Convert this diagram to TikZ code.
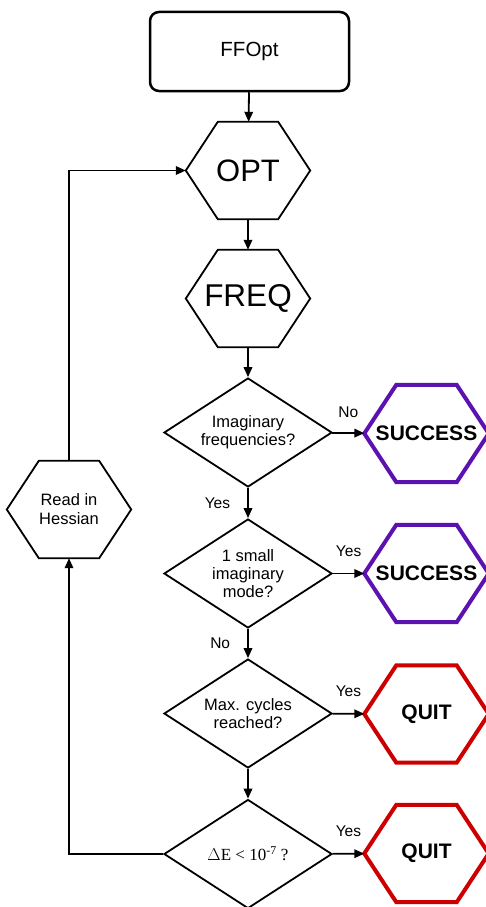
\documentclass[tikz,border=0pt]{standalone}
\usepackage{fontspec}
\setmainfont{Liberation Sans}
\newfontfamily\timesfont{Liberation Serif}
\usetikzlibrary{shapes.geometric,arrows.meta}

\definecolor{okpurple}{RGB}{92,18,176}
\definecolor{quitred}{RGB}{204,0,0}

% hexagon frame round an (invisible) node
\newcommand{\hexframe}[2]{%
	\draw[#2] ([xshift=32pt]#1.north west) -- ([xshift=-32pt]#1.north east) -- (#1.east)
	-- ([xshift=-32pt]#1.south east) -- ([xshift=32pt]#1.south west) -- (#1.west) -- cycle;}

\begin{document}
\begin{tikzpicture}[
		x=1pt, y=-1pt,
		>={Triangle[length=10pt,width=8.5pt]},
		flow/.style={->, line width=1.8pt},
		start/.style={draw, rounded corners=9pt, line width=2.5pt, minimum width=199pt, minimum height=79pt, font=\fontsize{20.5}{24}\selectfont},
		hexnode/.style={minimum width=124pt, minimum height=97pt, inner sep=0pt, align=center},
		decision/.style={diamond, draw, line width=1.8pt, aspect=1.54, minimum width=168pt, minimum height=109pt, inner sep=0pt, align=center, font=\fontsize{16.5}{18}\selectfont},
		answer/.style={inner sep=0pt, font=\fontsize{15.5}{18}\selectfont}
		]
		
		\useasboundingbox (0,0) rectangle (486,907);
		
		% Main column
		\node[start] (ffopt) at (249.5,51.5) {FFOpt};
		\node[hexnode, font=\fontsize{31}{34}\selectfont] (opt) at (248,170.5) {OPT};
		\node[hexnode, font=\fontsize{31.5}{34}\selectfont] (freq) at (248,298.5) {FREQ};
		\hexframe{opt}{line width=1.8pt}
		\hexframe{freq}{line width=1.8pt}
		
		% Decisions
		\node[decision] (imag) at (248,432.5) {Imaginary\\frequencies?};
		\node[decision] (small) at (248,573.5) {1 small\\imaginary\\mode?};
		\node[decision] (cycles) at (248,713.5) {Max. cycles\\reached?};
		\node[decision, font=\timesfont\fontsize{17}{20}\selectfont] (conv) at (248,854) {$\Delta$E < 10\textsuperscript{-7} ?};
		
		% End points
		\node[hexnode, font=\bfseries\fontsize{21}{24}\selectfont] (succ1) at (426.5,433.5) {SUCCESS};
		\node[hexnode, font=\bfseries\fontsize{21}{24}\selectfont] (succ2) at (426.5,573.5) {SUCCESS};
		\node[hexnode, font=\bfseries\fontsize{21}{24}\selectfont] (quit1) at (426.5,714) {QUIT};
		\node[hexnode, font=\bfseries\fontsize{21}{24}\selectfont] (quit2) at (426.5,853.5) {QUIT};
		\hexframe{succ1}{okpurple, line width=4pt}
		\hexframe{succ2}{okpurple, line width=4pt}
		\hexframe{quit1}{quitred, line width=4pt}
		\hexframe{quit2}{quitred, line width=4pt}
		
		% Restart branch
		\node[hexnode, font=\fontsize{16.5}{19}\selectfont] (hess) at (69,509.5) {Read in\\Hessian};
		\hexframe{hess}{line width=1.8pt}
		
		% Arrows down the column
		\draw[flow] (ffopt) -- (opt);
		\draw[flow] (opt) -- (freq);
		\draw[flow] (freq) -- (imag);
		\draw[flow] (imag) -- node[answer, left=17pt] {Yes} (small);
		\draw[flow] (small) -- node[answer, left=17pt] {No} (cycles);
		\draw[flow] (cycles) -- (conv);
		
		% Arrows to the end points
		\draw[flow] (imag) -- node[answer, above=15pt] {No} (succ1);
		\draw[flow] (small) -- node[answer, above=16pt] {Yes} (succ2);
		\draw[flow] (cycles) -- node[answer, above=16pt] {Yes} (quit1);
		\draw[flow] (conv) -- node[answer, above=16pt] {Yes} (quit2);
		
		% Loop back
		\draw[flow] (conv.west) -| (hess.south);
		\draw[flow] (hess.north) |- (opt.west);
		
	\end{tikzpicture}
\end{document}
